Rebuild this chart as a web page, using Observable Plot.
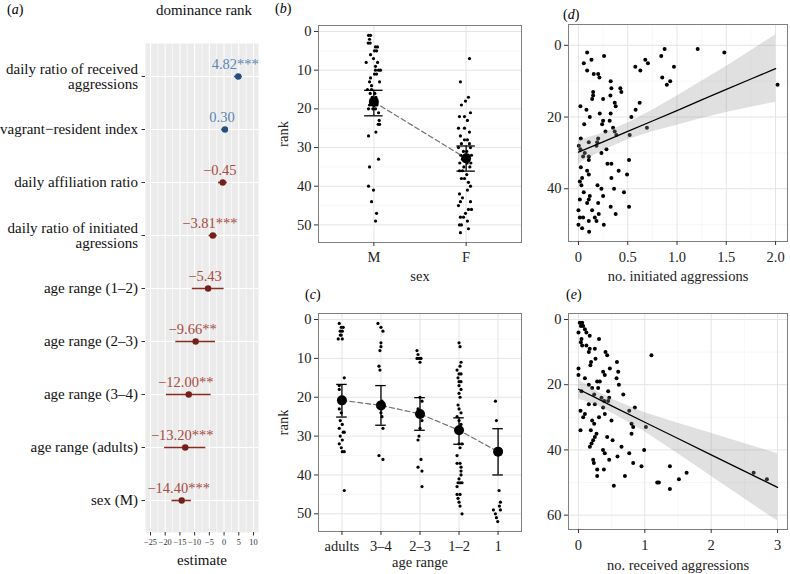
<!DOCTYPE html>
<html><head><meta charset="utf-8">
<script src="https://cdn.jsdelivr.net/npm/d3@7"></script>
<script src="https://cdn.jsdelivr.net/npm/@observablehq/plot@0.6"></script>
<style>
body{margin:0;background:#fff;}
#fig{position:relative;width:790px;height:574px;overflow:hidden;font-family:"Liberation Serif","DejaVu Serif",serif;background:#fff;}
#fig svg{position:absolute;}
#fig svg, #fig svg text, #fig svg tspan{font-family:"Liberation Serif","DejaVu Serif",serif !important;}
.tag{position:absolute;font-size:14px;line-height:14px;color:#000;font-family:"Liberation Serif","DejaVu Serif",serif;}
.ttl{position:absolute;font-size:15px;line-height:16px;color:#111;text-align:center;font-family:"Liberation Serif","DejaVu Serif",serif;}
</style></head><body><div id="fig"></div>
<script>
// ---------- panel (a): model estimates ----------
const panelTitle = "dominance rank";
const termLabels = ["daily ratio of received\naggressions", "vagrant\u2212resident index", "daily affiliation ratio", "daily ratio of initiated\nagressions", "age range (1\u20132)", "age range (2\u20133)", "age range (3\u20134)", "age range (adults)", "sex (M)"];
const estimates = [4.82, 0.30, -0.45, -3.81, -5.43, -9.66, -12.00, -13.20, -14.40];
const ciLow = [3.5, -0.9, -1.9, -5.1, -10.8, -16.4, -19.6, -20.2, -17.7];
const ciHigh = [6.2, 1.5, 1.1, -2.3, 0.0, -2.9, -4.4, -6.2, -11.1];
const estLabels = ["4.82***", "0.30", "\u22120.45", "\u22123.81***", "\u22125.43", "\u22129.66**", "\u221212.00**", "\u221213.20***", "\u221214.40***"];
const estTicks = [-25, -20, -15, -10, -5, 0, 5, 10];
const estMinor = [-22.5, -17.5, -12.5, -7.5, -2.5, 2.5, 7.5];

// ---------- panel (b): rank by sex ----------
const sexLevels = ["M", "F"];
const maleDots = [[-0.058,1],[-0.036,1],[-0.047,2],[-0.062,3],[-0.040,3],[0.018,4],[0.040,4],[0.007,5],[0.029,5],[-0.036,6],[-0.004,7],[-0.083,8],[0.040,8],[0.018,9],[0.072,10],[0.051,10],[0.018,10],[0.029,11],[0.007,11],[-0.036,12],[-0.047,13],[0.062,13],[-0.025,14],[-0.069,15],[-0.025,15],[0.011,16],[-0.040,16],[-0.018,17],[0.022,17],[-0.029,18],[0.004,18],[0.033,19],[-0.047,19],[-0.011,20],[0.018,20],[-0.058,20],[0.051,21],[0.058,23],[0.047,24],[0.062,24],[0.022,26],[-0.058,27],[0.051,33],[-0.047,35],[-0.058,40],[-0.004,41],[-0.025,44],[0.029,47],[0.018,49]];
const femaleDots = [[0.036,7],[-0.062,13],[0.025,17],[-0.007,18],[-0.051,19],[0.047,21],[-0.072,22],[-0.018,22],[0.014,23],[-0.083,25],[-0.018,25],[0.036,26],[-0.062,27],[-0.018,28],[0.014,28],[-0.051,29],[0.036,29],[-0.083,30],[0.047,30],[-0.029,31],[0.007,31],[-0.058,32],[0.022,32],[0.058,32],[-0.040,33],[-0.004,33],[0.029,33],[-0.069,34],[0.011,34],[0.051,34],[-0.025,35],[0.040,35],[-0.072,36],[-0.040,36],[0.007,37],[-0.051,38],[-0.018,38],[0.025,39],[0.047,40],[0.014,41],[-0.072,42],[-0.040,43],[-0.062,44],[0.047,44],[-0.083,45],[0.025,46],[0.058,46],[-0.007,47],[-0.062,48],[-0.029,48],[0.014,49],[-0.072,50],[-0.051,50],[0.025,51],[-0.062,52]];
const sexMean = [18.2, 32.8];
const sexLow = [15.2, 29.6];
const sexHigh = [21.8, 36.1];

// ---------- panel (c): rank by age range ----------
const ageLevels = ["adults", "3\u20134", "2\u20133", "1\u20132", "1"];
const adultDots = [[-0.068,1],[-0.017,2],[0.034,2],[-0.043,3],[0.009,3],[-0.043,4],[-0.017,4],[-0.094,5],[0.009,5],[0.060,15],[-0.068,17],[-0.068,18],[-0.017,20],[-0.068,23],[-0.017,24],[-0.043,26],[0.009,27],[-0.068,28],[0.034,29],[0.060,29],[-0.043,30],[0.009,31],[-0.068,32],[-0.017,33],[0.009,34],[0.060,34],[0.060,44]];
const age34Dots = [[-0.077,1],[0.0,2],[0.051,3],[0.0,6],[0.0,7],[-0.026,8],[-0.051,12],[-0.026,13],[0.026,21],[-0.026,22],[0.017,23],[0.0,24],[0.026,25],[0.051,28],[-0.051,35],[0.051,36]];
const age23Dots = [[-0.077,8],[-0.051,9],[-0.026,10],[0.026,10],[-0.077,10],[0.0,11],[0.0,20],[0.051,21],[-0.051,23],[0.026,24],[0.051,25],[0.051,26],[0.0,28],[-0.026,30],[-0.051,31],[0.026,36],[-0.051,38],[0.051,39],[0.051,43]];
const age12Dots = [[0.0,6],[0.026,7],[0.051,11],[0.026,12],[-0.051,13],[0.0,14],[0.051,14],[-0.026,15],[0.051,16],[0.0,16],[0.0,17],[0.051,18],[0.0,19],[0.026,20],[-0.026,22],[0.0,23],[0.051,24],[-0.051,25],[0.0,26],[0.051,27],[0.026,28],[-0.026,29],[0.0,32],[0.077,32],[0.026,33],[-0.051,35],[-0.051,37],[0.026,37],[0.051,38],[0.051,39],[0.051,40],[0.0,41],[-0.026,42],[0.026,42],[0.077,42],[-0.051,43],[-0.051,45],[0.026,45],[-0.026,46],[0.0,47],[0.026,48],[0.077,50]];
const age1Dots = [[-0.068,21],[-0.043,26],[0.026,44],[0.060,47],[0.034,48],[0.060,49],[-0.120,49],[-0.068,50],[-0.043,51],[-0.009,52]];
const ageMean = [20.8, 22.1, 24.3, 28.5, 34.0];
const ageLow = [16.7, 17.0, 20.1, 25.3, 28.1];
const ageHigh = [25.1, 27.2, 28.5, 32.1, 40.0];

// ---------- panel (d): initiated aggressions ----------
const initiated = [[0.088,2],[0.132,4],[0.054,5],[0.26,3],[0.088,7],[0.155,8],[0.20,8],[0.213,9],[0.327,10],[0.334,12],[0.324,14],[0.425,12],[0.435,13],[0.149,13],[0.149,14],[0.139,15],[0.25,15],[0.368,16],[0.378,17],[0.02,17],[0.081,18],[0.216,19],[0.327,19],[0.115,20],[0.25,21],[0.24,22],[0.317,21],[0.058,22],[0.351,23],[0.368,24],[0.274,24],[0.385,25],[0.024,26],[0.20,26],[0.19,27],[0.105,27],[0.004,28],[0.02,29],[0.183,28],[0.284,29],[0.064,30],[0.047,31],[0.233,30],[0.105,31],[0.105,32],[0.294,33],[0.334,33],[0.513,32],[0.024,34],[0.408,35],[0.088,35],[0.105,36],[0.334,37],[0.493,36],[0.037,37],[0.014,38],[0.03,39],[0.193,39],[0.233,40],[0.361,40],[0.462,41],[0.054,41],[0.115,42],[0.105,43],[0.088,44],[0.25,42],[0.014,43],[0.2,44],[0.327,45],[0.513,45],[0.139,46],[0.0,46],[0.206,47],[0.378,47],[0.047,48],[0.166,48],[0.183,49],[0.105,49],[0.014,48],[0.257,50],[0.0,50],[0.037,51],[0.108,52],[0.577,6],[0.628,7],[0.678,4],[0.705,5],[0.874,1],[0.84,3],[0.969,6],[0.85,9],[0.931,10],[0.897,11],[0.621,16],[0.58,18],[0.537,20],[0.695,23],[0.52,25],[1.21,1],[1.48,2],[2.02,11]];
const initFitX = [0, 0.25, 0.5, 0.75, 1, 1.25, 1.5, 1.75, 2];
const initFitY = [29.8, 26.9, 24.0, 21.1, 18.2, 15.2, 12.3, 9.4, 6.5];
const initFitLo = [26.6, 24.5, 21.7, 18.1, 14.1, 10.0, 5.9, 1.5, -2.9];
const initFitHi = [33.0, 29.3, 26.3, 24.1, 22.3, 20.4, 18.7, 17.3, 15.9];
const initTicks = [0, 0.5, 1, 1.5, 2];
const initTickLabels = ["0", "0.5", "1.0", "1.5", "2.0"];

// ---------- panel (e): received aggressions ----------
const received = [[0.02,1],[0.056,1],[0.037,2],[0.07,2],[0.097,3],[0.12,4],[0.0,4],[0.17,5],[0.31,6],[0.046,6],[0.036,7],[0.056,8],[0.12,8],[0.17,9],[0.156,10],[0.247,9],[0.408,10],[0.433,11],[0.257,12],[1.1,11],[0.19,13],[0.18,14],[0.58,13],[0.473,15],[0.372,16],[0.397,17],[0.0,15],[0.0,17],[0.599,16],[0.574,18],[0.097,18],[0.282,19],[0.322,19],[0.609,20],[0.156,20],[0.206,21],[0.297,21],[0.448,22],[0.675,23],[0.046,22],[0.237,23],[0.347,24],[0.463,24],[0.448,25],[0.156,26],[0.247,26],[0.388,25],[0.372,27],[0.85,27],[0.765,28],[0.031,28],[0.097,29],[0.071,30],[0.397,29],[0.31,30],[0.206,31],[0.237,32],[0.498,31],[0.8,32],[0.825,33],[1.016,33],[0.031,34],[0.186,34],[0.272,35],[0.247,36],[0.222,37],[0.197,38],[0.172,39],[0.8,35],[0.433,36],[0.514,37],[0.649,39],[0.37,40],[0.397,41],[0.99,40],[0.588,42],[0.765,41],[0.463,43],[0.825,44],[0.222,43],[0.232,44],[0.95,45],[0.282,46],[0.383,46],[0.282,48],[0.7,48],[0.533,51],[1.378,45],[1.187,50],[1.212,50],[1.378,52],[1.514,49],[1.63,47],[2.64,47],[2.84,49]];
const recFitX = [0, 0.25, 0.5, 1, 1.5, 2, 2.5, 3];
const recFitY = [21.4, 23.9, 26.5, 31.5, 36.5, 41.5, 46.5, 51.5];
const recFitLo = [18.4, 21.7, 24.4, 28.6, 31.8, 34.9, 38.0, 41.2];
const recFitHi = [24.4, 26.1, 28.6, 34.4, 41.2, 48.1, 55.0, 61.8];
const recTicks = [0, 1, 2, 3];

// ---------- styling ----------
const FONT = "'Liberation Serif', 'DejaVu Serif', serif";
const MAJOR = "#e4e4e4", MINOR = "#f1f1f1", BORDER = "#7f7f7f", AXIS = "#333";
const BLUE = {line: "#2f5f92", point: "#244f7e", text: "#5b86b3"};
const RED = {line: "#8c2c21", point: "#73201a", text: "#a74c40"};
const baseStyle = {fontFamily: FONT, fontSize: "14px", background: "transparent", overflow: "visible", color: "#111"};
const fig = document.getElementById("fig");
function place(svg, left, top) { svg.style.left = left + "px"; svg.style.top = top + "px"; fig.appendChild(svg); }
function tag(letter, left, top) {
  const d = document.createElement("div"); d.className = "tag";
  d.style.left = left + "px"; d.style.top = top + "px";
  d.innerHTML = "(<i>" + letter + "</i>)"; fig.appendChild(d);
}
const TITLE = {text: d => d, lineAnchor: "middle", textAnchor: "middle"};

// ---------- draw (a) ----------
const rowsA = termLabels.map((term, i) => ({term, est: estimates[i], lo: ciLow[i], hi: ciHigh[i], label: estLabels[i], pos: estimates[i] > 0}));
function estMarks(sel, c) {
  return [
    Plot.ruleY(rowsA, {filter: sel, y: "term", x1: "lo", x2: "hi", stroke: c.line, strokeWidth: 1.6}),
    Plot.dot(rowsA, {filter: sel, x: "est", y: "term", r: 3.2, fill: c.point}),
    Plot.text(rowsA, {filter: sel, x: "est", y: "term", text: "label", dy: -12, dx: -3, fill: c.text, fontSize: 14.5})
  ];
}
place(Plot.plot({
  width: 270, height: 574, marginLeft: 145, marginRight: 12, marginTop: 43, marginBottom: 42,
  style: baseStyle,
  x: {domain: [-26.7, 11.7]},
  y: {type: "point", domain: termLabels, padding: 0.6},
  marks: [
    Plot.frame({fill: "#ebebeb", stroke: "none"}),
    Plot.ruleX(estMinor, {stroke: "#fff", strokeWidth: 0.6}),
    Plot.ruleX(estTicks, {stroke: "#fff", strokeWidth: 1.1}),
    Plot.ruleY(termLabels, {stroke: "#fff", strokeWidth: 1.1}),
    ...estMarks(d => d.pos, BLUE),
    ...estMarks(d => !d.pos, RED),
    Plot.axisY({tickSize: 3.5, tickPadding: 4, fontSize: 15, lineHeight: 1, stroke: AXIS, fill: "#111", label: null}),
    Plot.axisX({ticks: estTicks, tickSize: 3.5, tickPadding: 3, fontSize: 8.3, stroke: AXIS, fill: "#333", label: null,
      tickFormat: d => (d < 0 ? "\u2212" + (-d) : String(d))}),
    Plot.text(["estimate"], {...TITLE, frameAnchor: "bottom", dy: 28, fontSize: 15, fill: "#111"})
  ]
}), 0, 0);
{
  const t = document.createElement("div"); t.className = "ttl";
  t.style.left = "104px"; t.style.top = "2px"; t.style.width = "200px";
  t.textContent = panelTitle; fig.appendChild(t);
}

// ---------- rank panels (b), (c) ----------
const rankTicks = [0, 10, 20, 30, 40, 50];
const rankMinor = [5, 15, 25, 35, 45];
function rankPanel(levels, groups, mean, low, high, capHalf, o) {
  const idx = levels.map((_, i) => i + 1);
  const pts = groups.flatMap((g, i) => g.map(([j, rank]) => ({x: i + 1 + j, rank})));
  const ms = levels.map((l, i) => ({x: i + 1, m: mean[i], lo: low[i], hi: high[i]}));
  return Plot.plot({
    width: 260, height: o.height, marginLeft: 48, marginRight: 9, marginTop: o.mt, marginBottom: o.mb,
    style: baseStyle,
    x: {domain: [0.4, levels.length + 0.6]},
    y: {domain: [-1.55, 54.55], reverse: true},
    marks: [
      Plot.ruleY(rankMinor, {stroke: MINOR, strokeWidth: 0.6}),
      Plot.ruleY(rankTicks, {stroke: MAJOR, strokeWidth: 1}),
      Plot.ruleX(idx, {stroke: MAJOR, strokeWidth: 1}),
      Plot.dot(pts, {x: "x", y: "rank", r: 1.6, fill: "#000"}),
      Plot.line(ms, {x: "x", y: "m", stroke: "#707070", strokeWidth: 1.2, strokeDasharray: "5,3"}),
      Plot.ruleX(ms, {x: "x", y1: "lo", y2: "hi", stroke: "#000", strokeWidth: 1.3}),
      Plot.ruleY(ms, {y: "lo", x1: d => d.x - capHalf, x2: d => d.x + capHalf, stroke: "#000", strokeWidth: 1.3}),
      Plot.ruleY(ms, {y: "hi", x1: d => d.x - capHalf, x2: d => d.x + capHalf, stroke: "#000", strokeWidth: 1.3}),
      Plot.dot(ms, {x: "x", y: "m", r: 5, fill: "#000"}),
      Plot.frame({stroke: BORDER}),
      Plot.axisY({ticks: rankTicks, tickSize: 4, tickPadding: 3, fontSize: 14.5, stroke: AXIS, fill: "#222", label: null}),
      Plot.axisX({ticks: idx, tickFormat: i => levels[i - 1], tickSize: 4, tickPadding: 5, fontSize: 14.5, stroke: AXIS, fill: "#222", label: null}),
      Plot.text(["rank"], {...TITLE, frameAnchor: "left", dx: -35, rotate: -90, fontSize: 14.5, fill: "#222"}),
      Plot.text([o.title], {...TITLE, frameAnchor: "bottom", dy: o.titleDy, fontSize: 14.5, fill: "#222"})
    ]
  });
}
place(rankPanel(sexLevels, [maleDots, femaleDots], sexMean, sexLow, sexHigh, 0.1,
  {height: 290, mt: 25, mb: 48, title: "sex", titleDy: 34}), 270, 0);
place(rankPanel(ageLevels, [adultDots, age34Dots, age23Dots, age12Dots, age1Dots], ageMean, ageLow, ageHigh, 0.135,
  {height: 284, mt: 23, mb: 43, title: "age range", titleDy: 31}), 270, 290);

// ---------- scatter panels (d), (e) ----------
function scatterPanel(pts, fx, fy, flo, fhi, o) {
  const fit = fx.map((x, i) => ({x, y: fy[i], lo: flo[i], hi: fhi[i]}));
  return Plot.plot({
    width: 260, height: o.height, marginLeft: 38, marginRight: 3, marginTop: o.mt, marginBottom: o.mb,
    style: baseStyle,
    x: {domain: o.xDomain},
    y: {domain: o.yDomain, reverse: true},
    marks: [
      Plot.ruleY(o.yMinor, {stroke: MINOR, strokeWidth: 0.6}),
      Plot.ruleX(o.xMinor, {stroke: MINOR, strokeWidth: 0.6}),
      Plot.ruleY(o.yTicks, {stroke: MAJOR, strokeWidth: 1}),
      Plot.ruleX(o.xTicks, {stroke: MAJOR, strokeWidth: 1}),
      Plot.dot(pts, {x: d => d[0], y: d => d[1], r: 2, fill: "#000"}),
      Plot.areaY(fit, {x: "x", y1: "lo", y2: "hi", fill: "#999", fillOpacity: 0.3}),
      Plot.line(fit, {x: "x", y: "y", stroke: "#000", strokeWidth: 1.3}),
      Plot.frame({stroke: BORDER}),
      Plot.axisY({ticks: o.yTicks, tickSize: 4, tickPadding: 3, fontSize: 14.5, stroke: AXIS, fill: "#222", label: null}),
      Plot.axisX({ticks: o.xTicks, tickFormat: o.xFormat, tickSize: 4, tickPadding: 6, fontSize: 14.5, stroke: AXIS, fill: "#222", label: null}),
      Plot.text([o.title], {...TITLE, frameAnchor: "bottom", dy: o.titleDy, fontSize: 14.5, fill: "#222"})
    ]
  });
}
place(scatterPanel(initiated, initFitX, initFitY, initFitLo, initFitHi, {
  height: 290, mt: 24, mb: 49, xDomain: [-0.101, 2.121], yDomain: [-5.8, 54.7],
  xTicks: initTicks, xMinor: [0.25, 0.75, 1.25, 1.75], yTicks: [0, 20, 40], yMinor: [10, 30, 50],
  xFormat: (d, i) => initTickLabels[i], title: "no. initiated aggressions", titleDy: 35}), 530, 0);
place(scatterPanel(received, recFitX, recFitY, recFitLo, recFitHi, {
  height: 284, mt: 23, mb: 45, xDomain: [-0.15, 3.15], yDomain: [-1.84, 64.4],
  xTicks: recTicks, xMinor: [0.5, 1.5, 2.5], yTicks: [0, 20, 40, 60], yMinor: [10, 30, 50],
  xFormat: d => String(d), title: "no. received aggressions", titleDy: 36}), 530, 290);

// ---------- panel letters ----------
tag("a", 7, 3); tag("b", 275, 2); tag("c", 305, 288); tag("d", 563, 8); tag("e", 566, 288);
</script></body></html>
